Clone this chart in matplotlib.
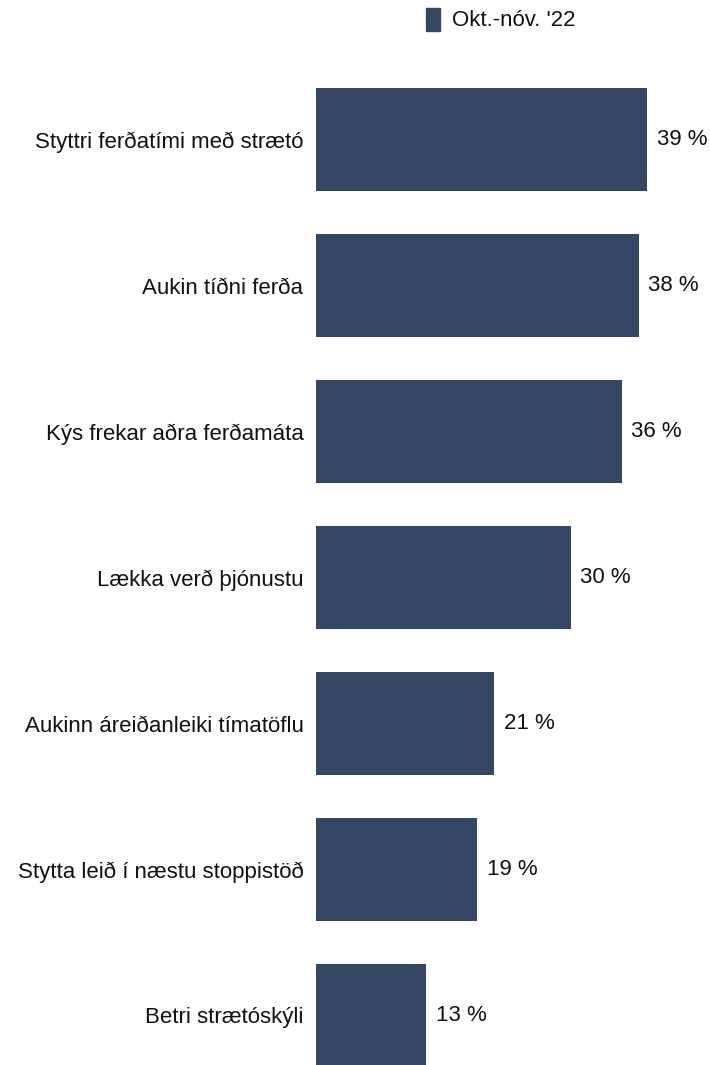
import matplotlib.pyplot as plt
from matplotlib.patches import Rectangle

categories = ["Styttri ferðatími með strætó", "Aukin tíðni ferða", "Kýs frekar aðra ferðamáta",
              "Lækka verð þjónustu", "Aukinn áreiðanleiki tímatöflu",
              "Stytta leið í næstu stoppistöð", "Betri strætóskýli"]
values = [39, 38, 36, 30, 21, 19, 13]
series_name = "Okt.-nóv. '22"
color = "#344664"

plt.rcParams['font.family'] = ['Liberation Sans', 'DejaVu Sans']

fig = plt.figure(figsize=(7.10, 10.65), dpi=100)
ax = fig.add_axes([316/710, 0, 1 - 316/710, (1065 - 66)/1065])

ypos = list(range(len(categories)))
bars = ax.barh(ypos, values, height=0.705, color=color)
for y, v in zip(ypos, values):
    ax.text(v + 1.15, y, f"{v} %", va='center', ha='left', fontsize=16, color='#111111')

ax.set_xlim(0, 394/8.49)
ax.set_ylim(6 + (1065 - 1015.5)/146, -(139.5 - 66)/146)
ax.set_yticks(ypos)
ax.set_yticklabels(categories, fontsize=16, color='#111111')
ax.tick_params(axis='y', length=0, pad=9)
ax.set_xticks([])
for s in ax.spines.values():
    s.set_visible(False)

# legend
fig.patches.append(Rectangle((426/710, 1 - 31/1065), 14/710, 23/1065,
                             transform=fig.transFigure, color=color))
fig.text(452/710, 1 - 20/1065, series_name, va='center', ha='left', fontsize=16, color='#111111')

fig.savefig("out.png", dpi=100)
